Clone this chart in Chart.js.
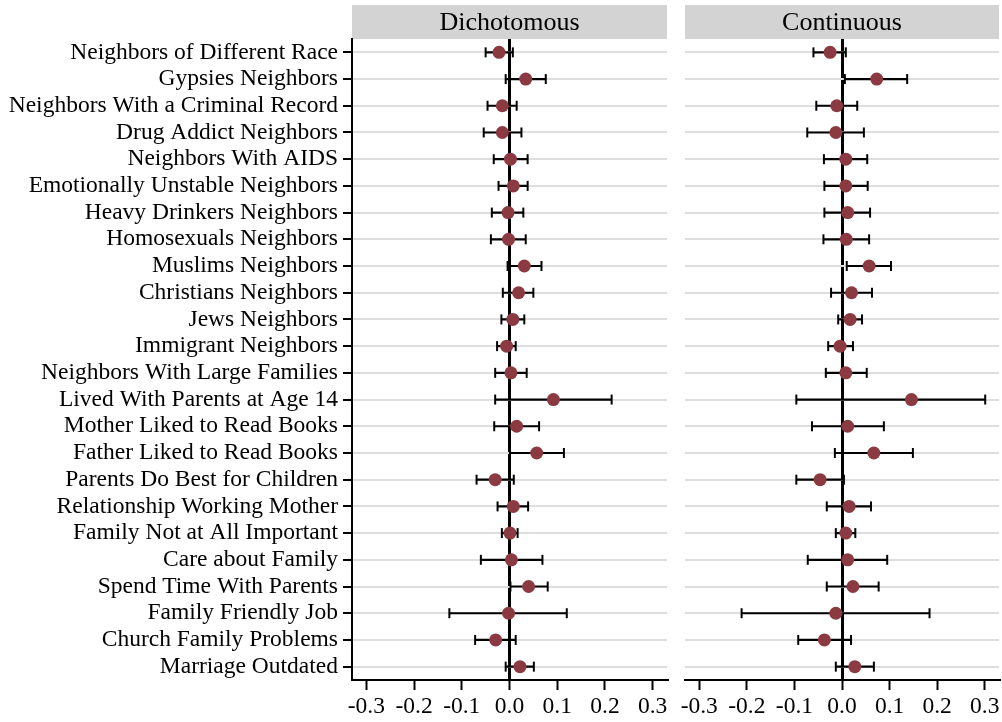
<!DOCTYPE html>
<html>
<head>
<meta charset="utf-8">
<script src="https://cdn.jsdelivr.net/npm/chart.js@4.4.1/dist/chart.umd.min.js"></script>
<style>
html, body { margin: 0; padding: 0; background: #fff; overflow: hidden; }
#wrap { position: relative; width: 1002px; height: 722px; overflow: hidden; }
.panel { position: absolute; top: 0; height: 722px; }
#p1 { left: 0; width: 675px; }
#p2 { left: 675px; width: 345px; }
</style>
</head>
<body>
<div id="wrap">
  <div class="panel" id="p1"><canvas id="c1"></canvas></div>
  <div class="panel" id="p2"><canvas id="c2"></canvas></div>
</div>
<script>
// Data
const categories = [
    'Neighbors of Different Race', 'Gypsies Neighbors', 'Neighbors With a Criminal Record',
    'Drug Addict Neighbors', 'Neighbors With AIDS', 'Emotionally Unstable Neighbors',
    'Heavy Drinkers Neighbors', 'Homosexuals Neighbors', 'Muslims Neighbors',
    'Christians Neighbors', 'Jews Neighbors', 'Immigrant Neighbors',
    'Neighbors With Large Families', 'Lived With Parents at Age 14', 'Mother Liked to Read Books',
    'Father Liked to Read Books', 'Parents Do Best for Children', 'Relationship Working Mother',
    'Family Not at All Important', 'Care about Family', 'Spend Time With Parents',
    'Family Friendly Job', 'Church Family Problems', 'Marriage Outdated'
];

const dichEst = [-0.022, 0.034, -0.015, -0.015, 0.002, 0.008, -0.003, -0.002, 0.031, 0.019, 0.007, -0.006,
                 0.003, 0.092, 0.015, 0.057, -0.030, 0.008, 0.001, 0.004, 0.040, -0.002, -0.029, 0.022];
const dichLo  = [-0.050, -0.008, -0.046, -0.054, -0.033, -0.023, -0.037, -0.039, -0.004, -0.014, -0.017, -0.026,
                 -0.030, -0.030, -0.032, 0.001, -0.069, -0.025, -0.016, -0.060, 0.002, -0.126, -0.072, -0.008];
const dichHi  = [0.007, 0.076, 0.015, 0.025, 0.038, 0.038, 0.029, 0.034, 0.067, 0.050, 0.031, 0.013,
                 0.036, 0.214, 0.062, 0.114, 0.009, 0.039, 0.017, 0.069, 0.080, 0.120, 0.013, 0.051];

const contEst = [-0.025, 0.073, -0.011, -0.013, 0.008, 0.008, 0.012, 0.009, 0.057, 0.020, 0.017, -0.004,
                 0.008, 0.146, 0.012, 0.067, -0.046, 0.015, 0.008, 0.012, 0.023, -0.013, -0.037, 0.027];
const contLo  = [-0.060, 0.006, -0.054, -0.073, -0.038, -0.037, -0.037, -0.039, 0.010, -0.023, -0.008, -0.029,
                 -0.034, -0.096, -0.063, -0.015, -0.096, -0.032, -0.013, -0.072, -0.032, -0.211, -0.092, -0.013];
const contHi  = [0.008, 0.137, 0.032, 0.046, 0.053, 0.054, 0.059, 0.057, 0.103, 0.063, 0.042, 0.023,
                 0.052, 0.301, 0.088, 0.149, 0.004, 0.061, 0.028, 0.095, 0.077, 0.184, 0.019, 0.067];

const xTicks = [-0.3, -0.2, -0.1, 0.0, 0.1, 0.2, 0.3];

const FONT = 'Liberation Serif';

// grey strip header above the plot area
const stripPlugin = {
    id: 'strip',
    beforeDraw(chart, args, opts) {
        const { ctx, chartArea } = chart;
        ctx.save();
        ctx.fillStyle = '#d3d3d3';
        ctx.fillRect(chartArea.left, 5, chartArea.right - chartArea.left, chartArea.top - 5);
        ctx.fillStyle = '#000';
        ctx.font = '26px "' + FONT + '"';
        ctx.textAlign = 'center';
        ctx.textBaseline = 'middle';
        ctx.fillText(opts.text, (chartArea.left + chartArea.right) / 2, (5 + chartArea.top) / 2 + 1);
        ctx.restore();
    }
};

function makePanel(canvasId, title, est, lo, hi, showLabels) {
    const errPoints = [];
    categories.forEach((c, i) => {
        errPoints.push({ x: lo[i], y: c }, { x: hi[i], y: c }, { x: null, y: null });
    });
    const estPoints = categories.map((c, i) => ({ x: est[i], y: c }));

    return new Chart(document.getElementById(canvasId), {
        type: 'scatter',
        data: {
            datasets: [
                {
                    data: estPoints,
                    order: 0,
                    pointRadius: 6.5,
                    pointBackgroundColor: '#8c3a41',
                    pointBorderWidth: 0,
                    showLine: false
                },
                {
                    data: errPoints,
                    order: 1,
                    showLine: true,
                    spanGaps: false,
                    borderColor: '#000',
                    borderWidth: 2.2,
                    pointStyle: 'line',
                    pointRotation: 90,
                    pointRadius: 5,
                    pointBorderColor: '#000',
                    pointBorderWidth: 2
                }
            ]
        },
        options: {
            responsive: true,
            maintainAspectRatio: false,
            animation: false,
            layout: {
                padding: { top: 39, bottom: 0, left: showLabels ? 0 : 10, right: showLabels ? 8 : 21 }
            },
            plugins: {
                legend: { display: false },
                tooltip: { enabled: false },
                strip: { text: title }
            },
            scales: {
                x: {
                    type: 'linear',
                    min: -0.33,
                    max: 0.33,
                    afterBuildTicks: axis => { axis.ticks = xTicks.map(v => ({ value: v })); },
                    afterFit: axis => { axis.height = 42; },
                    ticks: {
                        color: '#000',
                        font: { family: FONT, size: 23.5 },
                        padding: 3,
                        maxRotation: 0,
                        callback: v => v.toFixed(1)
                    },
                    grid: {
                        color: ctx => (ctx.tick && ctx.tick.value === 0) ? '#000' : 'rgba(0,0,0,0)',
                        lineWidth: 3,
                        tickColor: '#000',
                        tickWidth: 2,
                        tickLength: 10
                    },
                    border: { display: true, color: '#000', width: 2 }
                },
                y: {
                    type: 'category',
                    labels: categories,
                    offset: true,
                    afterFit: axis => { axis.width = showLabels ? 352 : 0; },
                    ticks: {
                        display: showLabels,
                        autoSkip: false,
                        color: '#000',
                        font: { family: FONT, size: 23.5 },
                        padding: 5
                    },
                    grid: {
                        offset: false,
                        color: '#dedede',
                        lineWidth: 2,
                        drawTicks: showLabels,
                        tickColor: '#000',
                        tickWidth: 2,
                        tickLength: 9
                    },
                    border: { display: showLabels, color: '#000', width: 2 }
                }
            }
        },
        plugins: [stripPlugin]
    });
}

makePanel('c1', 'Dichotomous', dichEst, dichLo, dichHi, true);
makePanel('c2', 'Continuous', contEst, contLo, contHi, false);
</script>
</body>
</html>
